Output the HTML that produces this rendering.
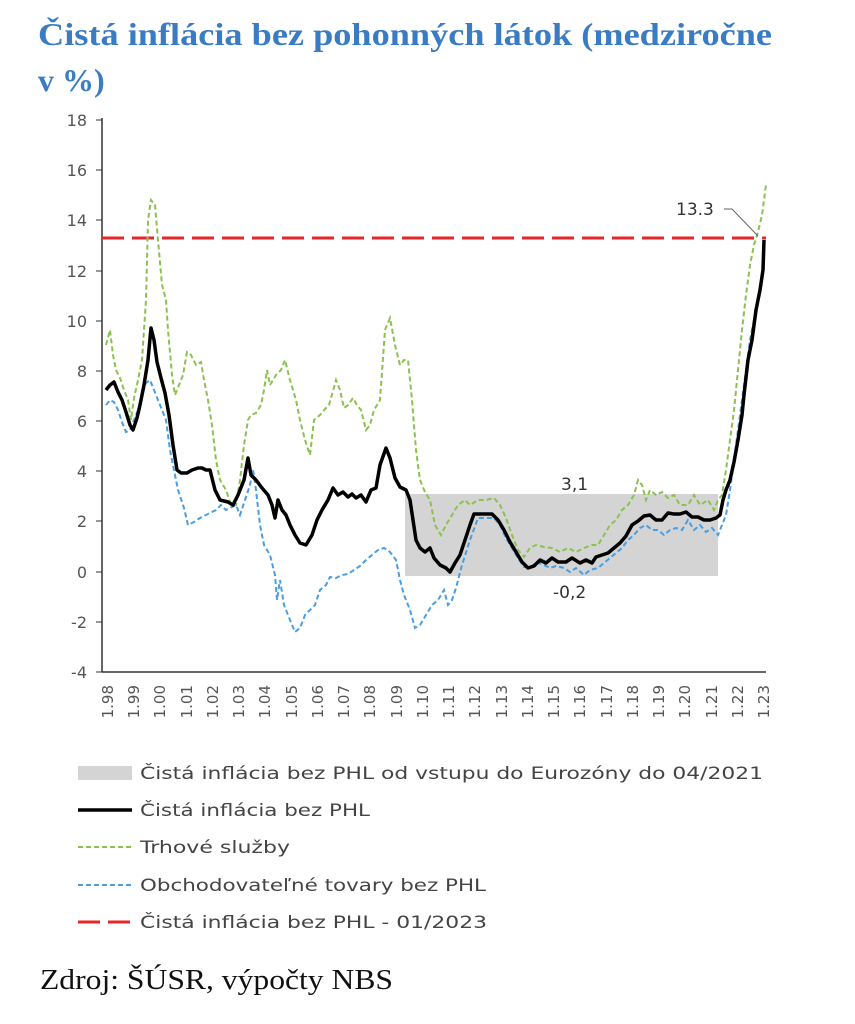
<!DOCTYPE html>
<html><head><meta charset="utf-8"><style>
html,body{margin:0;padding:0;background:#fff;}
svg{display:block;}
</style></head><body>
<svg width="855" height="1024" viewBox="0 0 855 1024" xmlns="http://www.w3.org/2000/svg">
<rect width="855" height="1024" fill="#fff"/>
<g font-family="Liberation Serif, serif" font-size="32" font-weight="bold" fill="#3a7cc4">
<text x="38" y="45" textLength="734" lengthAdjust="spacingAndGlyphs">Čistá inflácia bez pohonných látok (medziročne</text>
<text x="38" y="91">v %)</text>
</g>
<rect x="405" y="494" width="313" height="82" fill="#d4d4d4"/>
<g stroke="#333" stroke-width="1.5">
<line x1="102" y1="118" x2="102" y2="672"/>
<line x1="102" y1="672" x2="766" y2="672"/>
</g>
<g stroke="#333" stroke-width="1">
<line x1="96" y1="120" x2="102" y2="120"/><line x1="96" y1="170" x2="102" y2="170"/><line x1="96" y1="220" x2="102" y2="220"/><line x1="96" y1="271" x2="102" y2="271"/><line x1="96" y1="321" x2="102" y2="321"/><line x1="96" y1="371" x2="102" y2="371"/><line x1="96" y1="421" x2="102" y2="421"/><line x1="96" y1="471" x2="102" y2="471"/><line x1="96" y1="521" x2="102" y2="521"/><line x1="96" y1="572" x2="102" y2="572"/><line x1="96" y1="622" x2="102" y2="622"/><line x1="96" y1="672" x2="102" y2="672"/>
</g>
<g font-family="DejaVu Sans, sans-serif" font-size="16" fill="#555" text-anchor="end">
<text x="87" y="126">18</text><text x="87" y="176">16</text><text x="87" y="226">14</text><text x="87" y="277">12</text><text x="87" y="327">10</text><text x="87" y="377">8</text><text x="87" y="427">6</text><text x="87" y="477">4</text><text x="87" y="527">2</text><text x="87" y="578">0</text><text x="87" y="628">-2</text><text x="87" y="678">-4</text>
</g>
<g font-family="DejaVu Sans, sans-serif" font-size="15" fill="#555" text-anchor="end">
<text transform="translate(113,685) rotate(-90)">1.98</text>
<text transform="translate(139,685) rotate(-90)">1.99</text>
<text transform="translate(165,685) rotate(-90)">1.00</text>
<text transform="translate(192,685) rotate(-90)">1.01</text>
<text transform="translate(218,685) rotate(-90)">1.02</text>
<text transform="translate(244,685) rotate(-90)">1.03</text>
<text transform="translate(270,685) rotate(-90)">1.04</text>
<text transform="translate(297,685) rotate(-90)">1.05</text>
<text transform="translate(323,685) rotate(-90)">1.06</text>
<text transform="translate(349,685) rotate(-90)">1.07</text>
<text transform="translate(375,685) rotate(-90)">1.08</text>
<text transform="translate(402,685) rotate(-90)">1.09</text>
<text transform="translate(428,685) rotate(-90)">1.10</text>
<text transform="translate(454,685) rotate(-90)">1.11</text>
<text transform="translate(480,685) rotate(-90)">1.12</text>
<text transform="translate(507,685) rotate(-90)">1.13</text>
<text transform="translate(533,685) rotate(-90)">1.14</text>
<text transform="translate(559,685) rotate(-90)">1.15</text>
<text transform="translate(585,685) rotate(-90)">1.16</text>
<text transform="translate(612,685) rotate(-90)">1.17</text>
<text transform="translate(638,685) rotate(-90)">1.18</text>
<text transform="translate(664,685) rotate(-90)">1.19</text>
<text transform="translate(690,685) rotate(-90)">1.20</text>
<text transform="translate(717,685) rotate(-90)">1.21</text>
<text transform="translate(743,685) rotate(-90)">1.22</text>
<text transform="translate(769,685) rotate(-90)">1.23</text>
</g>
<line x1="102" y1="238" x2="766" y2="238" stroke="#e8262a" stroke-width="3" stroke-dasharray="22,8"/>
<polyline fill="none" stroke="#8cc152" stroke-width="2" stroke-dasharray="5,3" points="106,345 110,330 113,355 116,370 120,378 124,390 128,400 131,420 134,398 138,380 142,360 146,300 148,220 151,200 155,205 158,240 162,285 166,300 168,330 172,375 175,395 179,385 183,375 187,352 191,355 196,365 201,362 204,380 208,400 212,425 216,460 220,480 226,490 231,505 236,505 240,480 244,445 248,420 251,415 256,413 261,405 264,390 267,370 270,385 276,375 281,370 285,360 290,380 296,400 300,420 305,440 310,455 314,420 320,415 324,410 329,405 336,380 340,390 344,408 348,405 353,398 357,405 361,410 366,430 370,425 374,410 380,400 385,330 390,318 395,345 400,365 404,360 408,360 412,400 416,450 420,480 425,492 430,500 435,525 441,535 446,525 452,515 458,505 465,500 470,505 478,500 486,500 494,498 500,505 506,518 512,535 518,550 524,557 530,548 536,545 544,547 552,548 560,552 568,548 576,552 584,548 592,545 598,545 604,535 610,525 616,520 622,510 628,505 634,495 638,480 642,485 646,500 650,490 656,495 662,492 668,498 674,495 680,505 688,505 694,495 700,505 708,500 714,510 718,500 722,495 726,470 730,440 734,410 738,370 742,330 746,295 750,265 754,245 758,232 762,215 766,185"/>
<polyline fill="none" stroke="#4a9de0" stroke-width="2" stroke-dasharray="5,3" points="106,405 110,400 114,402 118,410 122,422 126,432 130,430 134,420 138,410 142,395 146,383 150,380 154,390 158,400 162,410 166,420 170,450 174,470 178,490 184,508 188,525 194,522 200,518 206,515 210,513 216,510 221,505 226,510 232,507 236,505 240,515 245,500 250,485 253,470 256,490 260,525 264,545 270,555 275,575 277,600 280,580 284,605 290,620 295,632 300,628 305,615 310,610 315,605 320,590 326,585 330,577 336,578 342,575 348,574 354,570 360,566 366,560 372,555 378,550 384,548 390,552 396,560 400,580 404,595 410,610 415,628 420,625 426,615 432,605 438,600 444,590 448,605 452,600 456,588 462,565 470,540 478,518 486,518 494,518 500,525 506,538 512,548 518,558 524,567 530,568 536,562 544,565 550,568 556,566 564,568 570,572 576,568 584,575 590,570 598,568 604,563 610,558 616,553 622,548 628,540 634,535 640,528 646,525 652,530 658,530 664,535 670,530 676,528 682,530 688,520 694,530 700,525 706,532 712,528 718,535 722,525 726,515 730,490 734,460 738,430 742,400 746,370 750,340 754,320 758,300 762,285"/>
<polyline fill="none" stroke="#000" stroke-width="3.5" stroke-linejoin="round" points="106,390 110,385 114,382 118,392 122,400 126,412 130,425 133,430 137,418 140,405 144,385 148,360 151,328 154,340 157,362 161,378 165,393 169,415 173,445 177,470 181,473 187,473 192,470 198,468 202,468 206,470 210,470 215,490 220,500 228,502 233,505 238,495 244,480 248,458 251,475 256,480 262,488 268,495 272,505 275,518 278,500 282,510 286,515 290,525 295,535 300,543 306,545 312,535 317,520 322,510 328,500 333,488 338,495 343,492 348,497 352,494 356,498 361,495 366,502 371,490 376,488 380,465 386,448 390,458 395,478 400,487 406,490 410,500 413,520 416,540 420,548 425,552 430,548 434,558 440,565 446,568 450,572 455,563 460,555 465,540 470,525 474,514 480,514 486,514 492,514 498,520 504,530 510,542 516,552 522,562 528,568 534,566 540,560 546,563 552,558 558,562 566,562 572,558 580,563 586,560 592,563 596,557 602,555 608,553 614,548 620,543 626,536 632,525 638,521 644,516 650,515 656,520 662,520 668,513 674,514 680,514 686,512 692,517 698,517 704,520 710,520 716,518 720,515 723,500 726,490 730,480 734,462 738,440 742,415 744,395 748,360 752,340 756,310 760,290 763,270 764,240"/>
<g font-family="DejaVu Sans, sans-serif" font-size="17" fill="#333">
<text x="561" y="490">3,1</text>
<text x="553" y="598">-0,2</text>
<text x="676" y="215">13.3</text>
</g>
<polyline points="724,209 732,209 758,236" fill="none" stroke="#666" stroke-width="1"/>
<rect x="78" y="766" width="54" height="14" fill="#d4d4d4"/>
<line x1="78" y1="810" x2="132" y2="810" stroke="#000" stroke-width="3.5"/>
<line x1="78" y1="847" x2="132" y2="847" stroke="#8cc152" stroke-width="2" stroke-dasharray="5,3"/>
<line x1="78" y1="885" x2="132" y2="885" stroke="#4a9de0" stroke-width="2" stroke-dasharray="5,3"/>
<line x1="78" y1="922" x2="132" y2="922" stroke="#e8262a" stroke-width="3" stroke-dasharray="22,8"/>
<g font-family="DejaVu Sans, sans-serif" font-size="17" fill="#444">
<text x="140" y="779" textLength="623" lengthAdjust="spacingAndGlyphs">Čistá inflácia bez PHL od vstupu do Eurozóny do 04/2021</text>
<text x="140" y="816" textLength="230" lengthAdjust="spacingAndGlyphs">Čistá inflácia bez PHL</text>
<text x="140" y="853" textLength="150" lengthAdjust="spacingAndGlyphs">Trhové služby</text>
<text x="140" y="891" textLength="346" lengthAdjust="spacingAndGlyphs">Obchodovateľné tovary bez PHL</text>
<text x="140" y="928" textLength="347" lengthAdjust="spacingAndGlyphs">Čistá inflácia bez PHL - 01/2023</text>
</g>
<text x="40" y="989" font-family="Liberation Serif, serif" font-size="28" fill="#111" textLength="353" lengthAdjust="spacingAndGlyphs">Zdroj: ŠÚSR, výpočty NBS</text>
</svg>
</body></html>
